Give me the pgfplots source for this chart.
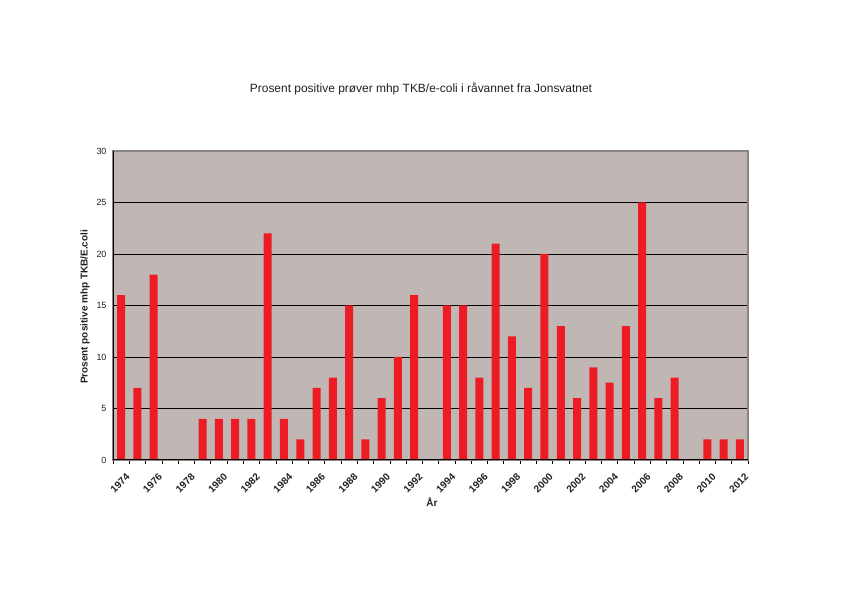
\documentclass[border=0pt]{standalone}
\usepackage{pgfplots}
\pgfplotsset{compat=1.18}
\usepackage{fontspec}
\setmainfont{Liberation Sans}
\definecolor{bgc}{RGB}{192,183,181}
\definecolor{barred}{RGB}{237,28,36}
\definecolor{framec}{RGB}{140,132,129}
\definecolor{txt}{RGB}{35,31,32}
\begin{document}
\begin{tikzpicture}[x=1bp,y=1bp]
\useasboundingbox (0,0) rectangle (842,595);
\begin{axis}[
 at={(113bp,135bp)}, anchor=south west,
 scale only axis, width=635bp, height=309bp,
 xmin=-0.5, xmax=38.5, ymin=0, ymax=30,
 ybar, bar width=8bp,
 axis background/.style={fill=bgc},
 axis line style={draw=framec, line width=1.2bp},
 xtick={0,2,...,38},
 xticklabels={1974,1976,1978,1980,1982,1984,1986,1988,1990,1992,1994,1996,1998,2000,2002,2004,2006,2008,2010,2012},
 minor xtick={-0.5,0.5,...,38.5},
 major tick length=0pt, minor tick length=4bp,
 xtick pos=bottom, ytick pos=left,
 tick align=outside,
 ytick={0,5,...,30},
 every tick/.style={black, line width=0.6bp},
 ymajorgrids, grid style={black, line width=0.7bp},
 /pgf/number format/assume math mode=true,
 yticklabel style={font=\fontsize{9}{10}\selectfont, text=txt, xshift=-3bp},
 xticklabel style={rotate=45, anchor=north east, inner sep=1bp, font=\bfseries\fontsize{10}{11}\selectfont, text=txt, xshift=-5bp, yshift=-11bp},
 clip=false,
]
\addplot[fill=barred, draw=none] coordinates {
 (0,16) (1,7) (2,18) (5,4) (6,4) (7,4) (8,4) (9,22) (10,4) (11,2)
 (12,7) (13,8) (14,15) (15,2) (16,6) (17,10) (18,16) (20,15) (21,15) (22,8)
 (23,21) (24,12) (25,7) (26,20) (27,13) (28,6) (29,9) (30,7.5) (31,13) (32,25)
 (33,6) (34,8) (36,2) (37,2) (38,2)
};
\draw[black, line width=1bp] (rel axis cs:0,1) -- (rel axis cs:0,0) -- (rel axis cs:1,0);
\end{axis}
\node[font=\fontsize{12}{14}\selectfont, text=txt] at (421,506) {Prosent positive prøver mhp TKB/e-coli i råvannet fra Jonsvatnet};
\node[rotate=90, font=\bfseries\fontsize{10}{12}\selectfont, text=txt] at (85,288) {Prosent positive mhp TKB/E.coli};
\node[font=\bfseries\fontsize{10}{12}\selectfont, text=txt] at (432,93) {År};
\end{tikzpicture}
\end{document}
